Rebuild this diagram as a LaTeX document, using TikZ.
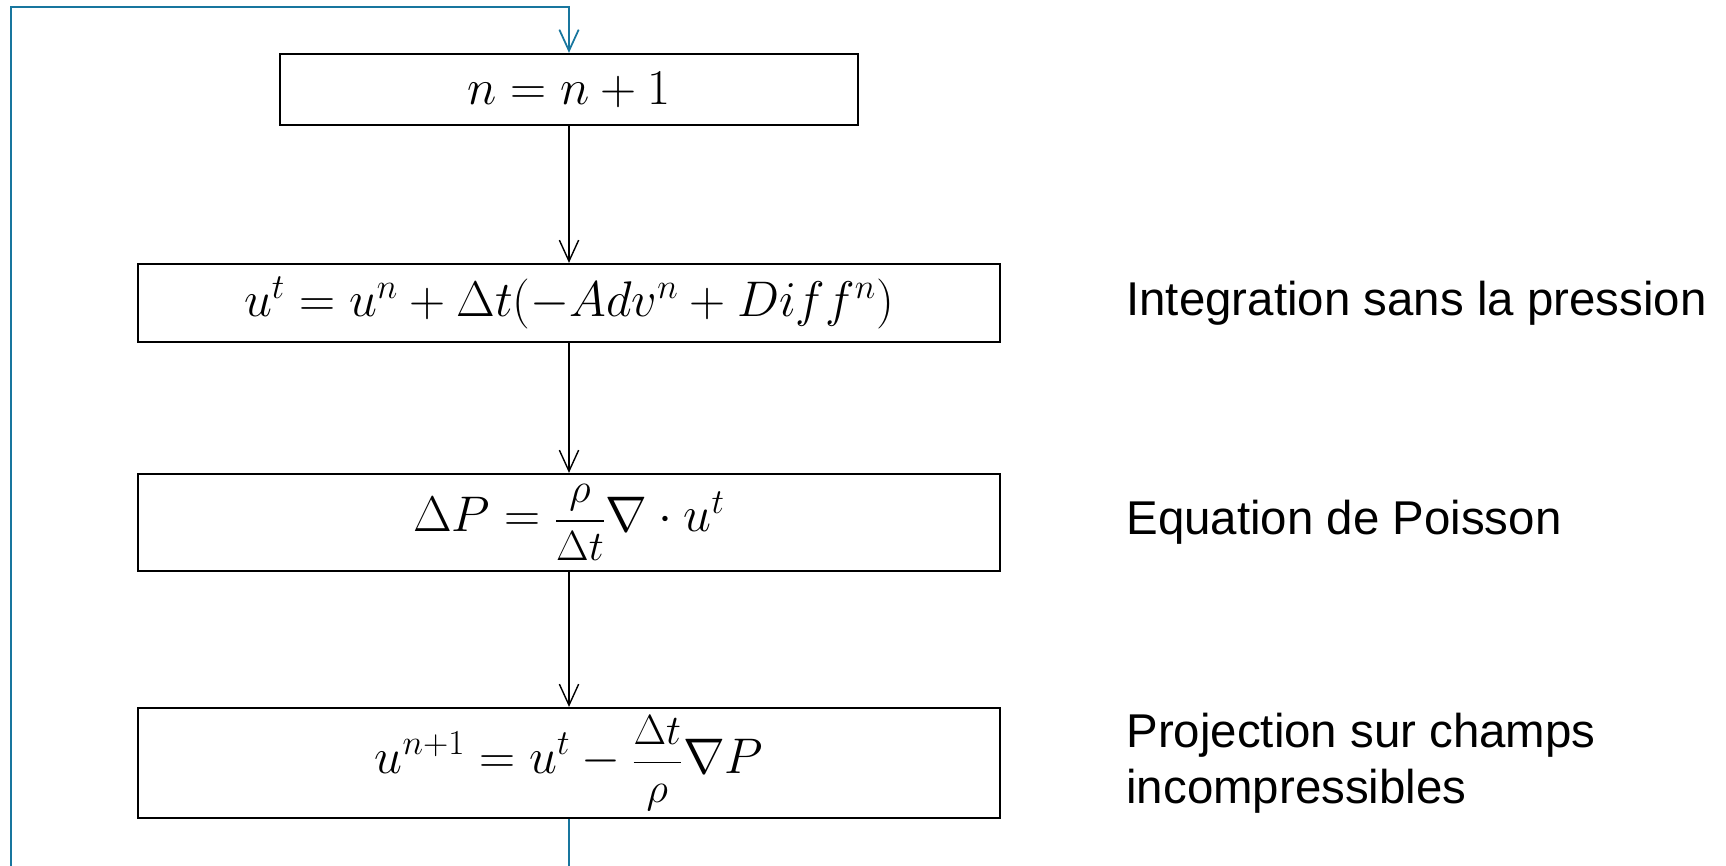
\RequirePackage{fix-cm}
\documentclass[tikz,border=0pt]{standalone}
\usepackage{amsmath, amssymb}
\usepackage{fontspec}
\newfontfamily\labelfont{Liberation Sans}
\usepackage{tikz}
\usetikzlibrary{positioning,arrows.meta}
\definecolor{loopblue}{RGB}{24,118,158}
\newcommand{\boxfrac}[2]{\text{\fontsize{24}{28}\selectfont$\dfrac{#1}{#2}$}}

\begin{document}
\begin{tikzpicture}[
  x=0.02cm, y=-0.02cm, >={Straight Barb[length=12pt,width=11pt]},
  eqbox/.style={draw, line width=1.3pt, minimum width=17.24cm, inner sep=0pt,
                font=\fontsize{28.5}{34}\selectfont},
  lbl/.style={font=\labelfont\fontsize{27}{32}\selectfont, align=left, inner sep=0pt},
  arr/.style={line width=0.8pt, ->},
  back/.style={line width=1pt, color=loopblue, ->},
]
\clip (0,0) rectangle (1726,865);
\node[eqbox, minimum width=11.56cm, minimum height=1.42cm] (inc) at (569,89.5) {$n = n + 1$};
\node[eqbox, minimum height=1.56cm] (adv) at (569,303) {$u^t = u^n + \Delta t(-Adv^n + Diff^n)$};
\node[eqbox, minimum height=1.94cm] (poi) at (569,522.5) {$\Delta P = \boxfrac{\rho}{\Delta t}\nabla\cdot u^t$};
\node[eqbox, minimum height=2.2cm] (proj) at (569,763) {$u^{n+1} = u^t - \boxfrac{\Delta t}{\rho}\nabla P$};

\node[lbl, right=2.5cm of adv] (ladv) {Integration sans la pression};
\node[lbl, right=2.5cm of poi] (lpoi) {Equation de Poisson};
\node[lbl, right=2.5cm of proj] (lproj) {Projection sur champs\\incompressibles};

\coordinate (corner) at (11,7);
\coordinate (under) at (569,900);

\draw[arr] (inc) -- (adv);
\draw[arr] (adv) -- (poi);
\draw[arr] (poi) -- (proj);
\draw[back] (proj.south) -- (under) -| (corner) -| (inc.north);
\end{tikzpicture}
\end{document}
